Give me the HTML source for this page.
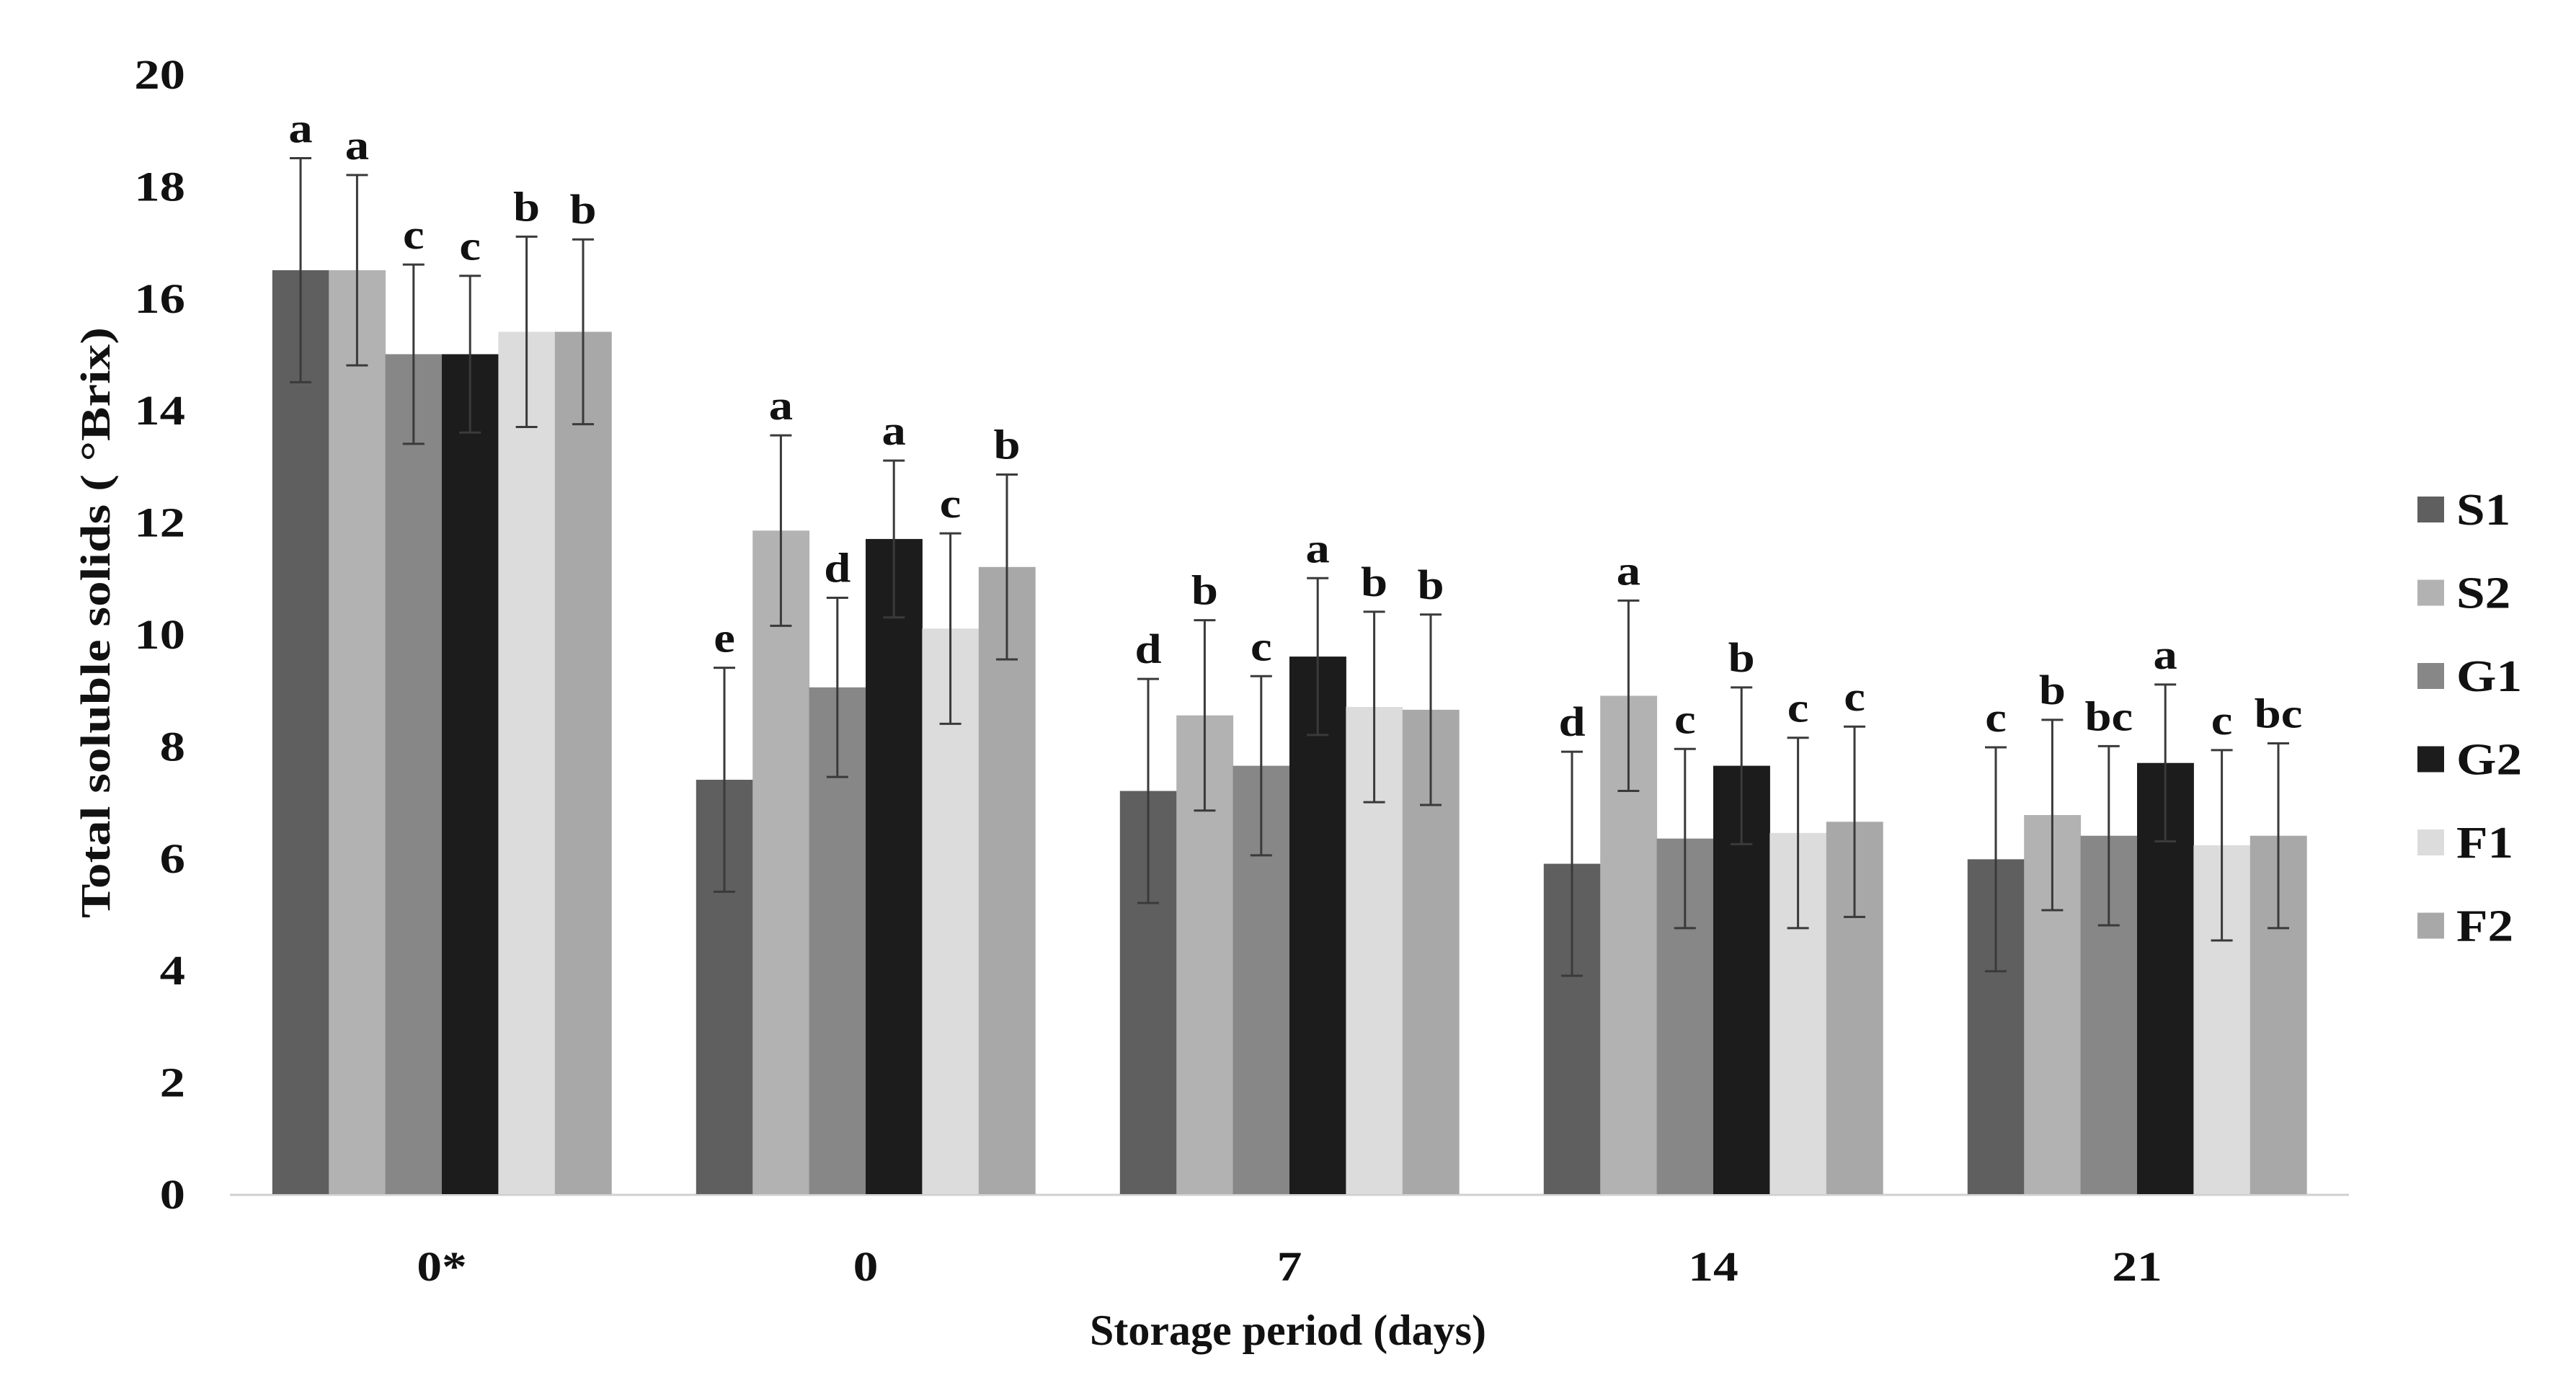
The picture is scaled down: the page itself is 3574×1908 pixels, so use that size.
<!DOCTYPE html>
<html><head><meta charset="utf-8"><style>
html,body{margin:0;padding:0;background:#fff;}
svg{display:block;font-family:"Liberation Serif",serif;font-weight:bold;}
</style></head><body>
<svg id="chart" width="3574" height="1908" viewBox="0 0 3574 1908" xmlns="http://www.w3.org/2000/svg">
<rect width="3574" height="1908" fill="#fff"/>
<g id="yaxis"></g>
<g id="bars"></g>
<g id="legend"></g>
<text transform="translate(152,864) rotate(-90) scale(1,0.85)" text-anchor="middle" font-size="68" textLength="820" lengthAdjust="spacingAndGlyphs" fill="#111">Total soluble solids ( °Brix)</text>
<text x="1787" y="1866" text-anchor="middle" font-size="60" fill="#111">Storage period (days)</text>
</svg>
<script>
const categories = ["0*", "0", "7", "14", "21"];
const seriesNames = ["S1", "S2", "G1", "G2", "F1", "F2"];
const seriesColors = ["#5f5f5f", "#b2b2b2", "#878787", "#1c1c1c", "#dcdcdc", "#a8a8a8"];
const S1 = [16.5, 7.4, 7.2, 5.9, 5.98];
const S2 = [16.5, 11.85, 8.55, 8.9, 6.77];
const G1 = [15.0, 9.05, 7.65, 6.35, 6.4];
const G2 = [15.0, 11.7, 9.6, 7.65, 7.7];
const F1 = [15.4, 10.1, 8.7, 6.45, 6.23];
const F2 = [15.4, 11.2, 8.65, 6.65, 6.4];
const errS1 = [2.0, 2.0, 2.0, 2.0, 2.0];
const errS2 = [1.7, 1.7, 1.7, 1.7, 1.7];
const errG1 = [1.6, 1.6, 1.6, 1.6, 1.6];
const errG2 = [1.4, 1.4, 1.4, 1.4, 1.4];
const errF1 = [1.7, 1.7, 1.7, 1.7, 1.7];
const errF2 = [1.65, 1.65, 1.7, 1.7, 1.65];
const letters0s = ["a", "a", "c", "c", "b", "b"];
const letters0 = ["e", "a", "d", "a", "c", "b"];
const letters7 = ["d", "b", "c", "a", "b", "b"];
const letters14 = ["d", "a", "c", "b", "c", "c"];
const letters21 = ["c", "b", "bc", "a", "c", "bc"];
const yTicks = [0, 2, 4, 6, 8, 10, 12, 14, 16, 18, 20];

const series = [S1, S2, G1, G2, F1, F2];
const errs = [errS1, errS2, errG1, errG2, errF1, errF2];
const letters = [letters0s, letters0, letters7, letters14, letters21];

const NS = "http://www.w3.org/2000/svg";
const x0 = 319, x1 = 3259, y0 = 1657, yTop = 103;
const groupW = (x1 - x0) / categories.length;
const barW = 78.4;
function yScale(v) { return y0 - (v / 20) * (y0 - yTop); }
function groupX(i) { return x0 + groupW * i + groupW / 2; }
function barX(i, s) { return groupX(i) - barW * seriesNames.length / 2 + s * barW; }
function mk(tag, attrs, parent) {
  const e = document.createElementNS(NS, tag);
  for (const k in attrs) e.setAttribute(k, attrs[k]);
  parent.appendChild(e);
  return e;
}
const yaxis = document.getElementById('yaxis');
yTicks.forEach(t => {
  const tx = mk('text', {transform: `translate(257,${yScale(t) + 20}) scale(1.22,1)`, 'text-anchor': 'end', 'font-size': 58, fill: '#111'}, yaxis);
  
  
  tx.textContent = t;
});
const axisLine = mk('line', {x1: x0, x2: x1, y1: y0 + 1, y2: y0 + 1, stroke: '#d0d0d0', 'stroke-width': 3}, yaxis);



const bars = document.getElementById('bars');
categories.forEach((c, i) => {
  const lbl = mk('text', {transform: `translate(${groupX(i)},${y0 + 120}) scale(1.2,1)`, 'text-anchor': 'middle', 'font-size': 58, fill: '#111'}, bars);
  
  
  lbl.textContent = c;
  series.forEach((ser, s) => {
    const v = ser[i], e = errs[s][i];
    const bx = barX(i, s);
    const r = mk('rect', {x: bx, y: yScale(v), width: barW + 0.5, height: y0 - yScale(v), fill: seriesColors[s]}, bars);
    
    
    const cx = bx + barW / 2;
    const yt = yScale(v + e), yb = yScale(v - e);
    const eb = mk('path', {d: `M${cx},${yt}V${yb}M${cx-15},${yt}H${cx+15}M${cx-15},${yb}H${cx+15}`, stroke: '#3a3a3a', 'stroke-width': 3, fill: 'none'}, bars);
    
    
    const lt = mk('text', {transform: `translate(${cx},${yt - 22}) scale(1.15,1)`, 'text-anchor': 'middle', 'font-size': 58, fill: '#111'}, bars);
    
    
    lt.textContent = letters[i][s];
  });
});

const legend = document.getElementById('legend');
seriesNames.forEach((n, s) => {
  const cy = 707 + s * 115.5;
  const g = mk('g', {}, legend);
  
  
  mk('rect', {x: 3354, y: cy - 18, width: 37, height: 36, fill: seriesColors[s]}, g);
  const t = mk('text', {transform: `translate(3408,${cy + 21}) scale(1.15,1)`, 'font-size': 62, fill: '#111'}, g);
  t.textContent = n;
});
</script>
</body></html>
